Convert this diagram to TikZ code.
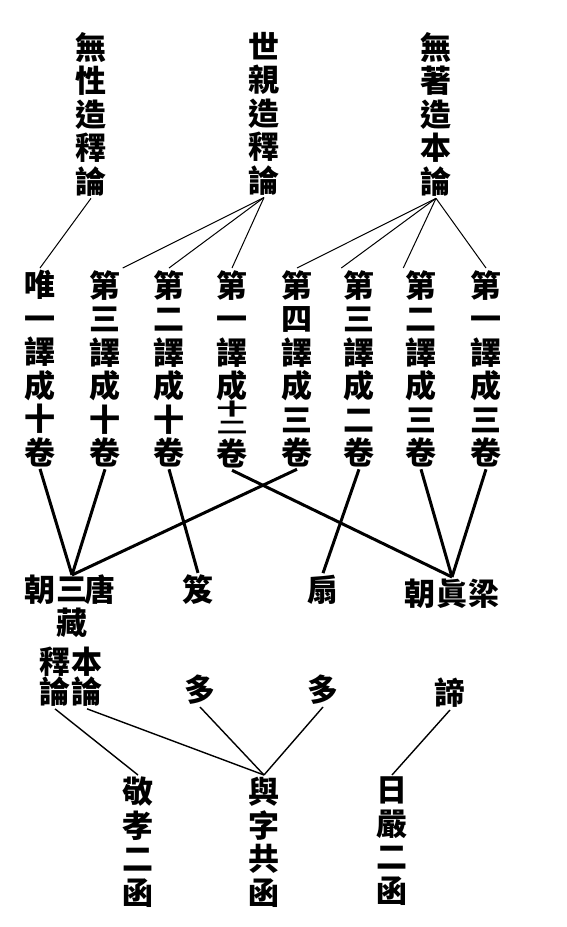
\documentclass[tikz,border=0pt]{standalone}
\usepackage{fontspec}
\newfontfamily\cjk{Noto Sans CJK TC}
\tikzset{
  col/.style={font=\cjk\bfseries\fontsize{31}{33.5}\selectfont, align=center, inner sep=2pt},
  thinlnk/.style={line width=1pt},
  midlnk/.style={line width=3pt},
  lowlnk/.style={line width=1.4pt},
}
\begin{document}
\begin{tikzpicture}[x=1pt,y=-1pt]
  \useasboundingbox (0,0) rectangle (567,927);
  % commentaries and root text
  \node[col,anchor=north] (wx) at (91,30) {無\\性\\造\\釋\\論};
  \node[col,anchor=north] (sq) at (264,30) {世\\親\\造\\釋\\論};
  \node[col,anchor=north] (wz) at (436,30) {無\\著\\造\\本\\論};
  % translations
  \node[col,anchor=north] (c1) at (40,268) {唯\\一\\譯\\成\\十\\卷};
  \node[col,anchor=north] (c2) at (105,268) {第\\三\\譯\\成\\十\\卷};
  \node[col,anchor=north] (c3) at (169,268) {第\\二\\譯\\成\\十\\卷};
  \node[col,anchor=north] (c4) at (232,268) {第\\一\\譯\\成\\[-15.6pt]\scalebox{1}[.55]{十}\\[-15.5pt]\scalebox{1}[.55]{二}\\[-1.4pt]卷};
  \node[col,anchor=north] (c5) at (297,268) {第\\四\\譯\\成\\三\\卷};
  \node[col,anchor=north] (c6) at (359,268) {第\\三\\譯\\成\\二\\卷};
  \node[col,anchor=north] (c7) at (421,268) {第\\二\\譯\\成\\三\\卷};
  \node[col,anchor=north] (c8) at (486,268) {第\\一\\譯\\成\\三\\卷};
  % translators
  \node[col] (chao1) at (40,590) {朝};
  \node[col,anchor=north] (san) at (72,575) {三\\藏};
  \node[col] (tang) at (100,590) {唐};
  \node[col,anchor=north] (shi) at (55,645) {釋\\[-3.5pt]論};
  \node[col,anchor=north] (ben) at (87,645) {本\\[-3.5pt]論};
  \node[col] (ji) at (198,590) {笈};
  \node[col] (duo1) at (200,690) {多};
  \node[col] (shan) at (323,590) {扇};
  \node[col] (duo2) at (323,690) {多};
  \node[col] (chao2) at (420,594) {朝};
  \node[col] (zhen) at (452,594) {眞};
  \node[col] (liang) at (484,594) {梁};
  \node[col] (di) at (450,693) {諦};
  % cases
  \node[col,anchor=north] (jing) at (138,775) {敬\\孝\\二\\函};
  \node[col,anchor=north] (yu) at (264,775) {與\\字\\共\\函};
  \node[col,anchor=north] (ri) at (392,775) {日\\嚴\\二\\函};
  % links
  \begin{scope}[thinlnk]
    \draw (wx.south) to (c1.north);
    \draw (sq.south) to (c2.north east);
    \draw (sq.south) to (c3.north);
    \draw (sq.south) to (c4.north);
    \draw (wz.south) to (c5.north);
    \draw (wz.south) to (c6.north west);
    \draw (wz.south) to (c7.north west);
    \draw (wz.south) to (c8.north);
  \end{scope}
  \begin{scope}[midlnk]
    \draw (c1.south) to (san.north);
    \draw (c2.south) to (san.north);
    \draw (c3.south) to (ji.north);
    \draw (c4.south) to (zhen.north);
    \draw (c5.south) to (san.north);
    \draw (c6.south) to (shan.north);
    \draw (c7.south) to (zhen.north);
    \draw (c8.south) to (zhen.north);
  \end{scope}
  \begin{scope}[lowlnk]
    \draw (shi.south) to (jing.north);
    \draw (ben.south) to (yu.north);
    \draw (duo1.south) to (yu.north);
    \draw (duo2.south) to (yu.north);
    \draw (di.south) to (ri.north);
  \end{scope}
\end{tikzpicture}
\end{document}
